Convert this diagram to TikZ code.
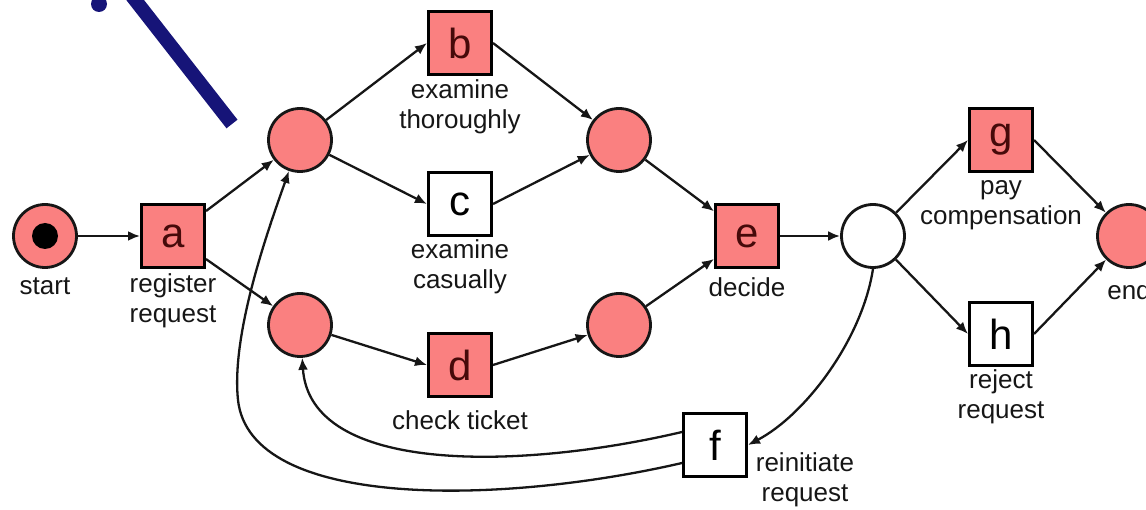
\documentclass[tikz,border=0pt]{standalone}
\usepackage{fontspec}
\setmainfont{Liberation Sans}
\usetikzlibrary{arrows.meta}
\definecolor{petri}{RGB}{250,128,128}
\definecolor{ink}{RGB}{22,22,22}
\definecolor{pen}{RGB}{22,20,120}
\definecolor{letter}{RGB}{70,10,10}
\begin{document}
\begin{tikzpicture}[x=1pt,y=-1pt,
  place/.style={circle,draw=ink,line width=2.8pt,minimum size=63pt,inner sep=0pt},
  marked/.style={place,fill=petri},
  trans/.style={rectangle,draw=black,line width=3pt,minimum size=63pt,inner sep=0pt,
    font=\fontsize{42}{42}\selectfont},
  active/.style={trans,fill=petri,text=letter},
  arc/.style={-{Latex[length=12pt,width=10pt]},line width=2.3pt,draw=ink},
  lbl/.style={font=\fontsize{26}{30}\selectfont,text=ink,align=center,inner sep=0pt}]
\useasboundingbox (0,0) rectangle (1146,510);

% pen stroke
\draw[pen,line width=14pt] (132,-4) -- (232,124);
\fill[pen] (99,4) circle (8);

% places
\node[marked] (pstart) at (45,236) {};
\fill[black] (pstart.center) circle (13);
\node[marked] (p1) at (300,140) {};
\node[marked] (p2) at (300,325) {};
\node[marked] (p3) at (619,140) {};
\node[marked] (p4) at (619,325) {};
\node[place]  (p5) at (873,236) {};
\node[marked] (pend) at (1129,236) {};

% transitions
\node[active] (a) at (173,236) {a};
\node[active] (b) at (460,43) {b};
\node[trans]  (c) at (460,204) {c};
\node[active] (d) at (460,365) {d};
\node[active] (e) at (747,236) {e};
\node[trans]  (f) at (715,445) {f};
\node[active] (g) at (1001,140) {g};
\node[trans]  (h) at (1001,334) {h};

% labels
\node[lbl] (lstart) at (45,286) {start};
\node[lbl] (la) at (173,301) {register\\request};
\node[lbl] (lb) at (460,107) {examine\\thoroughly};
\node[lbl] (lc) at (460,267) {examine\\casually};
\node[lbl] (ld) at (460,420) {check ticket};
\node[lbl] (le) at (747,287) {decide};
\node[lbl] (lf) at (805,480) {reinitiate\\request};
\node[lbl] (lg) at (1001,205) {pay\\compensation};
\node[lbl] (lh) at (1001,397) {reject\\request};
\node[lbl] (lend) at (1129,290) {end};

% arcs
\draw[arc] (pstart) -- (a);
\draw[arc] (a) -- (p1);
\draw[arc] (a) -- (p2);
\draw[arc] (p1) -- (b.west);
\draw[arc] (p1) -- (c.west);
\draw[arc] (b.east) -- (p3);
\draw[arc] (c.east) -- (p3);
\draw[arc] (p2) -- (d.west);
\draw[arc] (d.east) -- (p4);
\draw[arc] (p3) -- (e);
\draw[arc] (p4) -- (e);
\draw[arc] (e) -- (p5);
\draw[arc] (p5) -- (g.west);
\draw[arc] (p5) -- (h.west);
\draw[arc] (g.east) -- (pend);
\draw[arc] (h.east) -- (pend);
\draw[arc] (p5.south) .. controls (862,340) and (805,415) .. (f.east);
\draw[arc] ([yshift=13pt]f.west) .. controls (520,470) and (310,475) .. (p2);
\draw[arc] ([yshift=-18pt]f.west) .. controls (500,505) and (250,510) .. (238,400)
  .. controls (231,334) and (268,230) .. (p1);
\end{tikzpicture}
\end{document}
